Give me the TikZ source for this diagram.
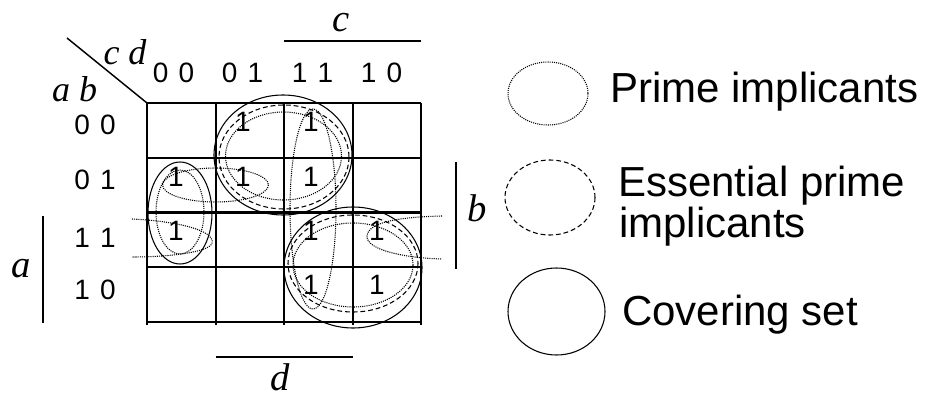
\documentclass[tikz,border=0pt]{standalone}
\usepackage{fontspec}
\setmainfont{Liberation Sans}
\newfontfamily\kmapserif{Liberation Serif}
\usetikzlibrary{positioning}

\newcommand\bitpair[2]{#1\hspace{0.36em}#2}

\tikzset{
  grid line/.style={line width=1.5pt},
  bar/.style={line width=1.2pt},
  cover/.style={line width=0.8pt},
  essential/.style={line width=0.8pt, dash pattern=on 3.6pt off 2.2pt},
  prime/.style={line width=0.8pt, dash pattern=on 0.8pt off 0.8pt},
  bit/.style={font=\fontsize{21}{23}\selectfont, inner sep=0pt},
  var/.style={font=\kmapserif\itshape\fontsize{29}{31}\selectfont, inner sep=0pt, anchor=base},
  corner/.style={font=\kmapserif\itshape\fontsize{27}{29}\selectfont, inner sep=0pt, anchor=base},
  legend/.style={font=\fontsize{31.5}{36}\selectfont, inner sep=0pt, anchor=base west},
}

\begin{document}
\begin{tikzpicture}[x=0.75pt, y=-0.75pt]
  \useasboundingbox (0,0) rectangle (930,420);

  % map grid
  \foreach \x in {147,215.5,284,352.5,421}
    \draw[grid line] (\x,103) -- (\x,325);
  \foreach \y in {103,157.75,212.5,267.25,322}
    \draw[grid line] (147,\y) -- (421,\y);
  \draw[line width=1.1pt] (67,38) -- (147,103);

  % corner labels
  \node[corner] (cd) at (125,65) {c\hspace{0.25em}d};
  \node[corner] (ab) at (74.5,102) {a\hspace{0.25em}b};

  % gray codes
  \foreach \p/\q/\x [count=\i] in {0/0/173.5, 0/1/242.5, 1/1/312.5, 1/0/381.5}
    \node[bit] (col\i) at (\x,73) {\bitpair{\p}{\q}};
  \foreach \p/\q/\y [count=\i] in {0/0/125, 0/1/180, 1/1/238, 1/0/290}
    \node[bit] (row\i) at (95,\y) {\bitpair{\p}{\q}};

  % minterms
  \foreach \x/\y [count=\i] in {243/122, 311/122, 176/177, 243/177, 311/177,
                                176/231, 311/231, 377/231, 311/285, 377/285}
    \node[bit] (one\i) at (\x,\y) {1};

  % variable bars
  \node[var] (c) at (341,32) {c};
  \draw[bar] (284,41) -- (421,41);
  \node[var] (d) at (280,390) {d};
  \draw[bar] (215.5,357) -- (352.5,357);
  \node[var] (a) at (21,277) {a};
  \draw[bar] (43,216) -- (43,323);
  \node[var] (b) at (477,221) {b};
  \draw[bar] (456,162) -- (456,269);

  % covering set
  \draw[cover] (283,155) ellipse [x radius=69, y radius=60];
  \draw[cover] (353,267.5) ellipse [x radius=69, y radius=60.5];
  \draw[cover] (180,213) ellipse [x radius=32, y radius=51];

  % essential prime implicants
  \draw[essential] (284,157) ellipse [x radius=65, y radius=52];
  \draw[essential] (353,263.5) ellipse [x radius=65, y radius=48.5];

  % prime implicants
  \draw[prime] (283.5,156) ellipse [x radius=58, y radius=44];
  \draw[prime] (353,265) ellipse [x radius=60, y radius=42];
  \draw[prime] (180,212) ellipse [x radius=24, y radius=42];
  \draw[prime] (313,209) ellipse [x radius=23, y radius=100];
  \draw[prime] (215.5,185) ellipse [x radius=53, y radius=17];
  \draw[prime] (132,219) .. controls (175,221) and (215,230) .. (212,243)
               .. controls (210,252) and (170,257) .. (132,257);
  \draw[prime] (442,216) .. controls (400,217) and (368,222) .. (367,236)
               .. controls (366,250) and (405,258) .. (442,259);

  % legend
  \draw[prime] (548,93.5) ellipse [x radius=40, y radius=31.5];
  \node[legend] (primetext) at (610,103) {Prime implicants};
  \draw[essential] (550,197.5) ellipse [x radius=45, y radius=37.5];
  \node[legend] (esstext) at (618,197) {Essential prime};
  \node[legend] (esstext2) at (619,237) {implicants};
  \draw[cover] (556.5,311.5) ellipse [x radius=48.5, y radius=43.5];
  \node[legend] (covtext) at (622,325) {Covering set};
\end{tikzpicture}
\end{document}
